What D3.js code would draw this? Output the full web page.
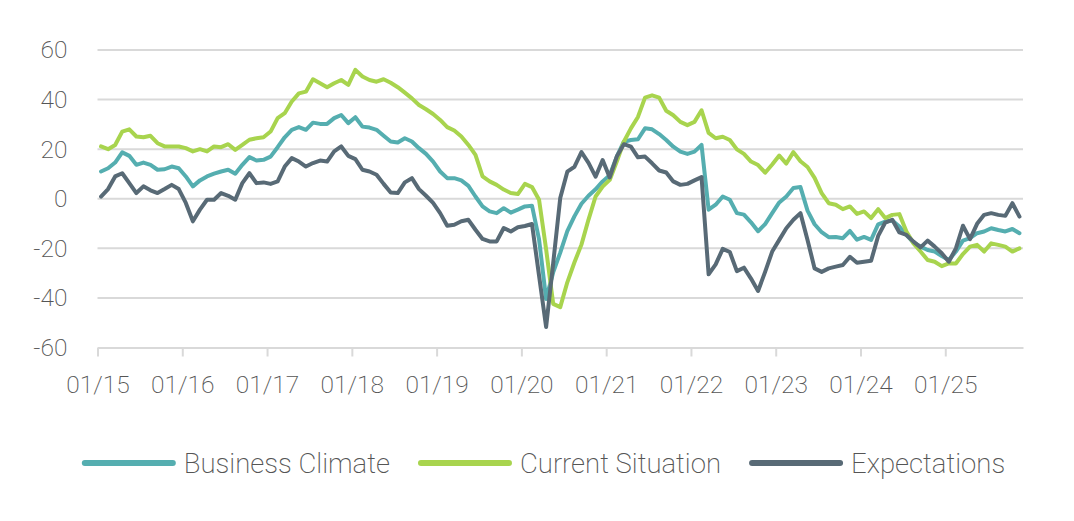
<!DOCTYPE html>
<html>
<head>
<meta charset="utf-8">
<script src="https://cdn.jsdelivr.net/npm/d3@7"></script>
<style>
  body { margin: 0; background: #fff; }
  svg { display: block; font-family: Roboto, "Open Sans", sans-serif; font-weight: 200; }
  .axis text { fill: #555; font-size: 24.5px; font-family: Roboto, "Open Sans", sans-serif; font-weight: 200; }
  .legend text { fill: #555; font-size: 27.5px; }
</style>
</head>
<body>
<svg id="chart" width="1074" height="521"></svg>
<script>
// monthly, 01/2015 .. 11/2025
const startYear = 2015;
const yTicks = [-60, -40, -20, 0, 20, 40, 60];

const businessClimate = [
  11.0, 12.3, 14.6, 18.7, 17.3, 13.7, 14.6, 13.7, 11.7, 11.9, 13.0, 12.3,
  9.0, 5.0, 7.4, 9.0, 10.1, 11.0, 11.7, 10.1, 13.7, 16.8, 15.4, 15.7,
  17.0, 20.8, 24.8, 27.8, 28.9, 27.8, 30.7, 30.2, 30.2, 32.5, 33.8, 30.5,
  32.9, 29.1, 28.7, 27.8, 25.4, 23.1, 22.7, 24.4, 23.1, 20.4, 18.1, 15.0,
  11.0, 8.3, 8.3, 7.4, 5.2, 0.9, -3.1, -5.1, -5.8, -3.8, -5.6, -4.4,
  -3.1, -2.8, -16.4, -40.4, -29.7, -21.7, -13.1, -7.1, -2.0, 1.2, 3.8, 7.0,
  9.5, 17.0, 23.0, 23.7, 24.0, 28.4, 28.0, 26.1, 23.7, 21.0, 19.0, 18.1,
  19.0, 21.7, -4.4, -2.4, 0.9, -0.4, -5.8, -6.4, -9.5, -13.1, -10.2, -5.8,
  -1.5, 0.9, 4.3, 4.7, -4.8, -10.3, -13.5, -15.5, -15.4, -15.9, -13.0, -16.5,
  -15.4, -16.6, -10.3, -9.2, -8.8, -11.2, -14.6, -17.7, -19.3, -20.7, -21.3, -23.1,
  -24.7, -21.3, -16.9, -15.9, -13.9, -13.2, -11.9, -12.6, -13.2, -12.2, -13.9
];

const currentSituation = [
  21.1, 20.0, 21.7, 27.1, 28.0, 25.1, 24.8, 25.4, 22.4, 21.1, 21.1, 21.1,
  20.4, 19.1, 20.0, 19.1, 21.1, 20.8, 22.0, 19.7, 21.7, 23.8, 24.4, 24.8,
  27.1, 32.5, 34.5, 39.2, 42.5, 43.2, 48.2, 46.6, 45.0, 46.6, 47.9, 45.9,
  52.0, 49.3, 47.9, 47.2, 48.2, 46.8, 45.0, 42.8, 40.5, 37.8, 36.1, 34.2,
  31.8, 28.9, 27.5, 25.1, 21.7, 17.7, 9.0, 7.0, 5.6, 3.7, 2.3, 1.9,
  6.0, 4.7, -0.4, -20.4, -42.4, -43.7, -33.7, -25.7, -18.5, -8.4, 0.9, 4.9,
  7.6, 15.0, 23.0, 28.4, 33.0, 40.8, 41.7, 40.8, 35.5, 33.7, 31.0, 29.7,
  31.0, 35.7, 26.6, 24.4, 25.0, 23.7, 19.9, 18.1, 15.0, 13.6, 10.5, 13.8,
  17.4, 14.2, 18.8, 15.1, 12.8, 8.4, 2.3, -1.8, -2.4, -4.2, -3.1, -6.1,
  -5.1, -7.8, -4.2, -7.8, -6.5, -6.2, -13.2, -18.0, -21.3, -24.7, -25.4, -27.2,
  -26.1, -26.1, -22.3, -19.3, -18.6, -21.3, -18.0, -18.6, -19.3, -21.3, -20.0
];

const expectations = [
  0.9, 3.9, 9.0, 10.3, 6.3, 2.3, 5.0, 3.4, 2.3, 3.9, 5.6, 3.9,
  -1.7, -9.1, -4.4, -0.4, -0.4, 2.3, 1.2, -0.4, 6.3, 10.3, 6.3, 6.6,
  6.0, 7.0, 13.0, 16.4, 15.0, 13.0, 14.4, 15.4, 15.0, 19.1, 21.1, 17.3,
  16.0, 11.7, 11.0, 9.7, 6.0, 2.5, 2.3, 6.6, 8.3, 3.9, 1.2, -1.7,
  -5.8, -10.9, -10.5, -9.1, -8.5, -12.5, -16.2, -17.2, -17.2, -11.8, -13.2, -11.5,
  -11.0, -10.2, -31.0, -51.7, -26.0, 0.3, 10.9, 12.9, 18.8, 14.5, 8.9, 15.6,
  8.6, 17.0, 22.0, 21.0, 16.7, 17.0, 14.3, 11.4, 10.6, 7.0, 5.6, 6.0,
  7.4, 8.7, -30.5, -26.5, -20.2, -21.5, -29.2, -27.8, -32.2, -37.2, -29.5, -21.3,
  -16.6, -11.9, -8.5, -5.8, -16.6, -28.1, -29.5, -28.1, -27.4, -26.7, -23.4, -25.8,
  -25.4, -25.0, -15.0, -9.6, -8.5, -13.6, -14.6, -17.3, -19.6, -16.9, -19.3, -22.0,
  -25.4, -20.0, -10.9, -16.3, -10.1, -6.5, -5.8, -6.5, -6.9, -1.8, -7.2
];

const months = businessClimate.map((d, i) => {
  const m = i % 12 + 1, y = startYear + Math.floor(i / 12);
  return String(m).padStart(2, '0') + '/' + String(y % 100).padStart(2, '0');
});

const series = [
  { name: 'Business Climate', values: businessClimate, color: '#55aeb0' },
  { name: 'Current Situation', values: currentSituation, color: '#a8d44e' },
  { name: 'Expectations', values: expectations, color: '#586a76' }
];

const svg = d3.select('#chart');

const x = d3.scaleLinear()
  .domain([0, months.length])
  .range([97.5, 1023]);

const y = d3.scaleLinear()
  .domain([-60, 60])
  .range([347.5, 50]);

// grid
svg.append('g')
  .selectAll('line')
  .data(yTicks.filter(d => d > -60))
  .join('line')
    .attr('x1', x(0))
    .attr('x2', x(months.length))
    .attr('y1', d => y(d))
    .attr('y2', d => y(d))
    .attr('stroke', '#d9d9d9')
    .attr('stroke-width', 2);

// x axis
const jans = d3.range(0, months.length, 12);
const xAxis = svg.append('g')
  .attr('class', 'axis')
  .attr('transform', `translate(0,${y(-60)})`)
  .call(d3.axisBottom(x)
    .tickValues(jans)
    .tickFormat(i => months[i])
    .tickSize(9)
    .tickSizeOuter(0)
    .tickPadding(19));
xAxis.select('.domain').attr('stroke', '#d9d9d9').attr('stroke-width', 2);
xAxis.selectAll('.tick line').attr('stroke', '#d9d9d9').attr('stroke-width', 2);

// y axis
const yAxis = svg.append('g')
  .attr('class', 'axis')
  .attr('transform', `translate(${x(0)},0)`)
  .call(d3.axisLeft(y)
    .tickValues(yTicks)
    .tickFormat(d => String(d))
    .tickSize(0)
    .tickPadding(30));
yAxis.select('.domain').remove();

// lines
const line = d3.line()
  .x((d, i) => x(i + 0.5))
  .y(d => y(d));

svg.append('g')
  .selectAll('path')
  .data(series)
  .join('path')
    .attr('fill', 'none')
    .attr('stroke', d => d.color)
    .attr('stroke-width', 4)
    .attr('stroke-linejoin', 'round')
    .attr('stroke-linecap', 'round')
    .attr('d', d => line(d.values));

// legend
const legend = svg.append('g').attr('class', 'legend');
const lineLen = 92, textGap = 9, itemGap = 29, legendY = 463;
let cx = 0;
series.forEach(s => {
  const g = legend.append('g').attr('transform', `translate(${cx},0)`);
  g.append('line')
    .attr('x1', 2).attr('x2', lineLen - 2)
    .attr('y1', legendY).attr('y2', legendY)
    .attr('stroke', s.color)
    .attr('stroke-width', 6)
    .attr('stroke-linecap', 'round');
  const t = g.append('text')
    .attr('x', lineLen + textGap)
    .attr('y', legendY)
    .attr('dy', '0.35em')
    .text(s.name);
  cx += lineLen + textGap + t.node().getComputedTextLength() + itemGap;
});
const legendWidth = cx - itemGap;
legend.attr('transform', `translate(${544 - legendWidth / 2},0)`);
</script>
</body>
</html>
